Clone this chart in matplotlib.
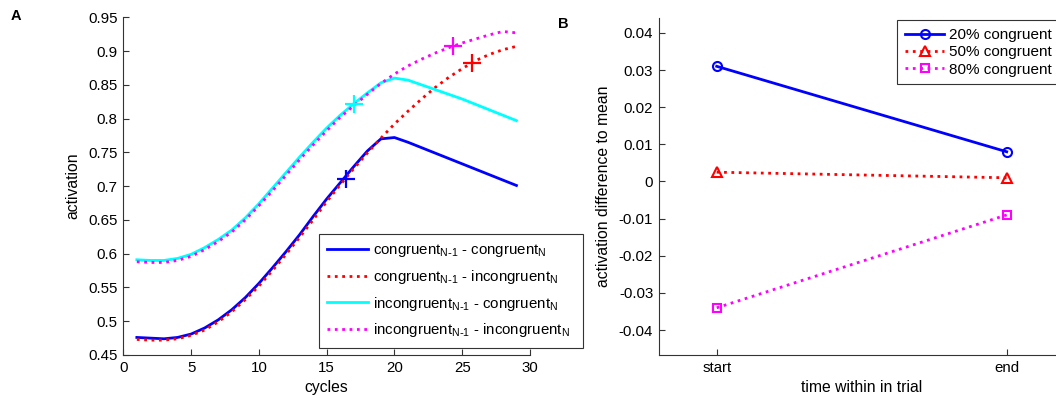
import matplotlib
matplotlib.use("Agg")
import matplotlib.pyplot as plt

plt.rcParams['font.family'] = ['Liberation Sans', 'DejaVu Sans']
plt.rcParams['mathtext.default'] = 'regular'
plt.rcParams['font.size'] = 10

cycles = list(range(1, 30))
cc = [0.476, 0.475, 0.474, 0.476, 0.481, 0.490, 0.502, 0.517, 0.535, 0.556,
      0.579, 0.603, 0.628, 0.655, 0.681, 0.705, 0.729, 0.752, 0.770, 0.772,
      0.765, 0.757, 0.749, 0.741, 0.733, 0.725, 0.717, 0.709, 0.701]
ci = [0.473, 0.472, 0.472, 0.474, 0.479, 0.487, 0.499, 0.514, 0.532, 0.552,
      0.575, 0.599, 0.624, 0.650, 0.677, 0.702, 0.726, 0.749, 0.771, 0.792,
      0.811, 0.829, 0.846, 0.861, 0.874, 0.886, 0.895, 0.902, 0.907]
ic = [0.591, 0.590, 0.590, 0.593, 0.599, 0.609, 0.621, 0.635, 0.653, 0.674,
      0.697, 0.720, 0.743, 0.765, 0.786, 0.805, 0.822, 0.838, 0.853, 0.860,
      0.857, 0.850, 0.843, 0.836, 0.829, 0.821, 0.813, 0.805, 0.797]
ii = [0.588, 0.587, 0.587, 0.590, 0.596, 0.606, 0.618, 0.632, 0.650, 0.671,
      0.693, 0.716, 0.739, 0.761, 0.782, 0.802, 0.819, 0.836, 0.852, 0.866,
      0.878, 0.888, 0.897, 0.905, 0.912, 0.918, 0.924, 0.929, 0.927]
cross_x = [16.4, 25.7, 17.0, 24.3]
cross_y = [0.711, 0.883, 0.821, 0.907]

labels_a = [r'congruent$_{N\text{-}1}$ - congruent$_{N}$',
            r'congruent$_{N\text{-}1}$ - incongruent$_{N}$',
            r'incongruent$_{N\text{-}1}$ - congruent$_{N}$',
            r'incongruent$_{N\text{-}1}$ - incongruent$_{N}$']
colors_a = ['#0000ff', '#ff0000', '#00ffff', '#ff00ff']
styles_a = ['-', ':', '-', ':']

phases = [1, 2]
phase_labels = ['start', 'end']
c20 = [0.031, 0.008]
c50 = [0.0025, 0.001]
c80 = [-0.034, -0.009]
labels_b = ['20% congruent', '50% congruent', '80% congruent']

W, H = 1056, 404
fig = plt.figure(figsize=(W / 100, H / 100), dpi=100)

def style_ax(ax):
    for s in ['top', 'right']:
        ax.spines[s].set_visible(False)
    for s in ['left', 'bottom']:
        ax.spines[s].set_color('#333333')
        ax.spines[s].set_linewidth(0.8)
    ax.tick_params(direction='in', length=4, width=0.8, colors='#333333',
                   labelcolor='black', labelsize=10.8, pad=4)

axA = fig.add_axes([123.3 / W, 1 - 355 / H, 406.7 / W, 337.7 / H])
series = [cc, ci, ic, ii]
for ys, col, ls, lab in zip(series, colors_a, styles_a, labels_a):
    axA.plot(cycles, ys, color=col, linestyle=ls, linewidth=2, label=lab)
for xx, yy, col in zip(cross_x, cross_y, colors_a):
    axA.plot([xx], [yy], marker='+', color=col, markersize=13, markeredgewidth=1.6,
             linestyle='none')
axA.set_xlim(0, 30)
axA.set_ylim(0.45, 0.95)
axA.set_xticks(range(0, 31, 5))
axA.set_yticks([0.45 + 0.05 * i for i in range(11)])
axA.set_yticklabels(['0.45', '0.5', '0.55', '0.6', '0.65', '0.7', '0.75', '0.8',
                     '0.85', '0.9', '0.95'])
axA.set_xlabel('cycles', fontsize=11.3, labelpad=4)
axA.set_ylabel('activation', fontsize=11.3, labelpad=6)
style_ax(axA)
legA = axA.legend(loc='upper left', bbox_to_anchor=(319 / W, 1 - 238 / H, 264 / W, 0.01),
                  bbox_transform=fig.transFigure, borderaxespad=0, mode='expand',
                  fancybox=False, framealpha=1, edgecolor='#333333',
                  fontsize=10.8, handlelength=2.73, labelspacing=0.58,
                  borderpad=0.55, handletextpad=0.33)
legA.get_frame().set_linewidth(0.8)

axB = fig.add_axes([658.7 / W, 1 - 355 / H, 406 / W, 337 / H])
axB.plot(phases, c20, color='#0000ff', linestyle='-', linewidth=2, marker='o',
         markerfacecolor='none', markeredgewidth=1.5, markersize=6.5, label=labels_b[0])
axB.plot(phases, c50, color='#ff0000', linestyle=':', linewidth=2, marker='^',
         markerfacecolor='none', markeredgewidth=1.5, markersize=6.5, label=labels_b[1])
axB.plot(phases, c80, color='#ff00ff', linestyle=':', linewidth=2, marker='s',
         markerfacecolor='none', markeredgewidth=1.5, markersize=5.5, label=labels_b[2])
axB.set_xlim(0.8, 2.2)
axB.set_ylim(-0.0467, 0.044)
axB.set_xticks(phases)
axB.set_xticklabels(phase_labels)
axB.set_yticks([-0.04, -0.03, -0.02, -0.01, 0, 0.01, 0.02, 0.03, 0.04])
axB.set_yticklabels(['-0.04', '-0.03', '-0.02', '-0.01', '0', '0.01', '0.02',
                     '0.03', '0.04'])
axB.set_xlabel('time within in trial', fontsize=11.3, labelpad=4)
axB.set_ylabel('activation difference to mean', fontsize=11.3, labelpad=5.5)
style_ax(axB)
legB = axB.legend(loc='upper left', bbox_to_anchor=(897 / W, 1 - 24.3 / H, 200 / W, 0.01),
                  bbox_transform=fig.transFigure, borderaxespad=0, mode='expand',
                  fancybox=False, framealpha=1, edgecolor='#333333',
                  fontsize=11, handlelength=2.6, labelspacing=0.22,
                  borderpad=0.5, handletextpad=0.33)
legB.get_frame().set_linewidth(0.8)

fig.text(11 / W, 1 - 20.5 / H, 'A', fontsize=10.5, fontweight='bold')
fig.text(558 / W, 1 - 28 / H, 'B', fontsize=10.5, fontweight='bold')

fig.savefig('out.png', dpi=100)
